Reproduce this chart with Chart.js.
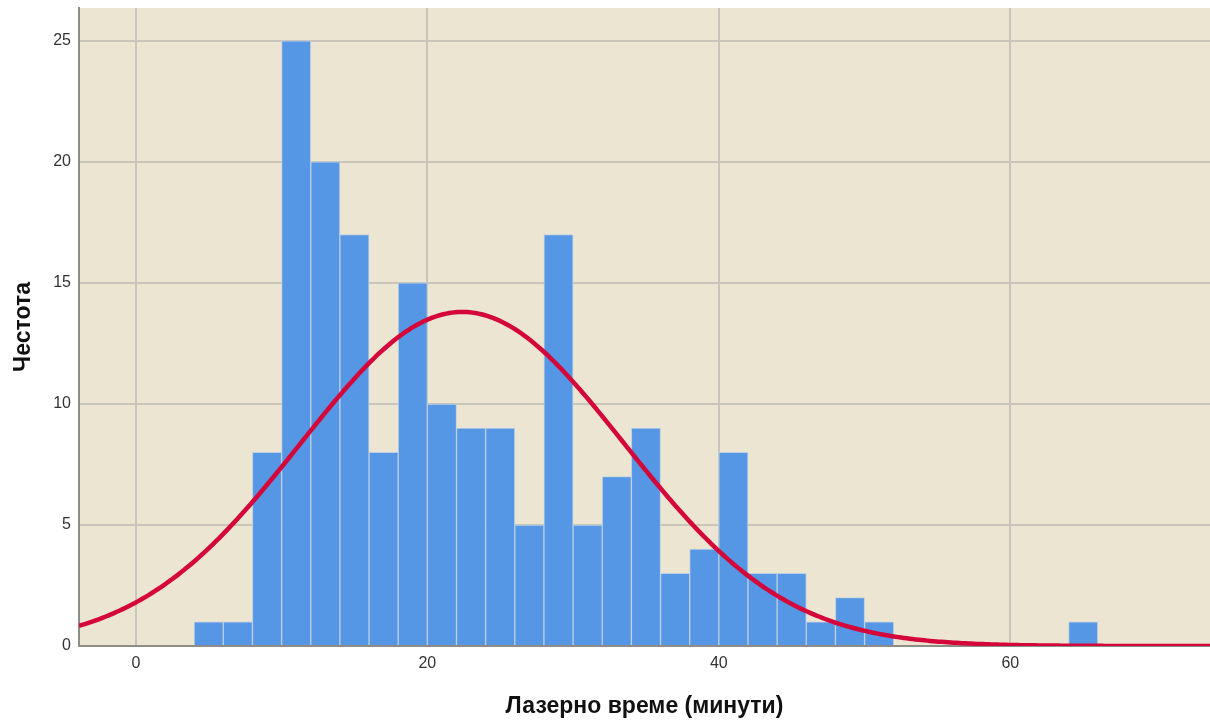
<!DOCTYPE html>
<html lang="bg">
<head>
<meta charset="utf-8">
<title>Лазерно време</title>
<script src="https://cdn.jsdelivr.net/npm/chart.js@4.4.1/dist/chart.umd.min.js"></script>
<style>
  html, body { margin: 0; padding: 0; background: #ffffff; }
  #wrap { width: 1210px; height: 721px; position: relative; }
</style>
</head>
<body>
<div id="wrap"><canvas id="hist"></canvas></div>
<script>
// Histogram bins (start of each 2-minute bin) and their frequencies
const binStarts = [4, 6, 8, 10, 12, 14, 16, 18, 20, 22, 24, 26, 28, 30, 32, 34, 36, 38, 40, 42, 44, 46, 48, 50, 64];
const counts    = [1, 1, 8, 25, 20, 17, 8, 15, 10, 9, 9, 5, 17, 5, 7, 9, 3, 4, 8, 3, 3, 1, 2, 1, 1];
const binWidth = 2;

// Tick labels on both axes
const xTicks = [0, 20, 40, 60];
const yTicks = [0, 5, 10, 15, 20, 25];

// Fitted normal curve parameters
const mean = 22.4;
const stdDev = 11.1;
const total = counts.reduce((a, b) => a + b, 0);

const xMin = -3.9, xMax = 73.7, yMax = 26.36;

const barPoints = binStarts.map((s, i) => ({ x: s + binWidth / 2, y: counts[i] }));

// Normal density scaled to the histogram's frequency units
const curvePoints = [];
for (let x = xMin; x <= xMax + 1e-9; x += 0.2) {
  const z = (x - mean) / stdDev;
  const y = total * binWidth * Math.exp(-0.5 * z * z) / (stdDev * Math.sqrt(2 * Math.PI));
  curvePoints.push({ x: +x.toFixed(3), y });
}

// Paint the plot area background
const plotBackground = {
  id: 'plotBackground',
  beforeDraw(chart) {
    const { ctx, chartArea: a } = chart;
    ctx.save();
    ctx.fillStyle = '#ebe5d1';
    ctx.fillRect(a.left, a.top, a.right - a.left, a.bottom - a.top);
    ctx.restore();
  }
};

const tickFont = { family: "'Liberation Sans', Arial, sans-serif", size: 16 };
const titleFont = { family: "'Liberation Sans', Arial, sans-serif", size: 23, weight: 'bold' };

new Chart(document.getElementById('hist'), {
  data: {
    datasets: [
      {
        type: 'line',
        data: curvePoints,
        borderColor: '#d4063a',
        borderWidth: 4.5,
        pointRadius: 0,
        tension: 0,
        fill: false,
        order: 0
      },
      {
        type: 'bar',
        data: barPoints,
        backgroundColor: '#5596e5',
        borderColor: '#bccfe4',
        borderWidth: 1,
        barPercentage: 1,
        categoryPercentage: 1,
        order: 1
      }
    ]
  },
  options: {
    responsive: true,
    maintainAspectRatio: false,
    animation: false,
    layout: { padding: { top: 0, left: 0, right: 0, bottom: 0 } },
    plugins: { legend: { display: false }, tooltip: { enabled: false } },
    scales: {
      x: {
        type: 'linear',
        min: xMin,
        max: xMax,
        offset: false,
        afterFit(s) { s.height = 75; s.paddingLeft = 0; s.paddingRight = 0; },
        afterBuildTicks(s) { s.ticks = xTicks.map(v => ({ value: v })); },
        grid: { color: '#c9c5bb', lineWidth: 2, drawTicks: false, offset: false },
        border: { display: true, color: '#8e8c86', width: 2 },
        ticks: { font: tickFont, color: '#333333', padding: 8, maxRotation: 0 },
        title: { display: true, text: 'Лазерно време (минути)', font: titleFont, color: '#111111', padding: { top: 0, bottom: 1 } }
      },
      y: {
        type: 'linear',
        min: 0,
        max: yMax,
        afterFit(s) { s.width = 79; s.paddingTop = 8; s.paddingBottom = 0; },
        afterBuildTicks(s) { s.ticks = yTicks.map(v => ({ value: v })); },
        grid: { color: '#c9c5bb', lineWidth: 2, drawTicks: false },
        border: { display: true, color: '#8e8c86', width: 2 },
        ticks: { font: tickFont, color: '#333333', padding: 8 },
        title: { display: true, text: 'Честота', font: titleFont, color: '#111111', padding: { top: 10, bottom: 0 } }
      }
    }
  },
  plugins: [plotBackground]
});
</script>
</body>
</html>
